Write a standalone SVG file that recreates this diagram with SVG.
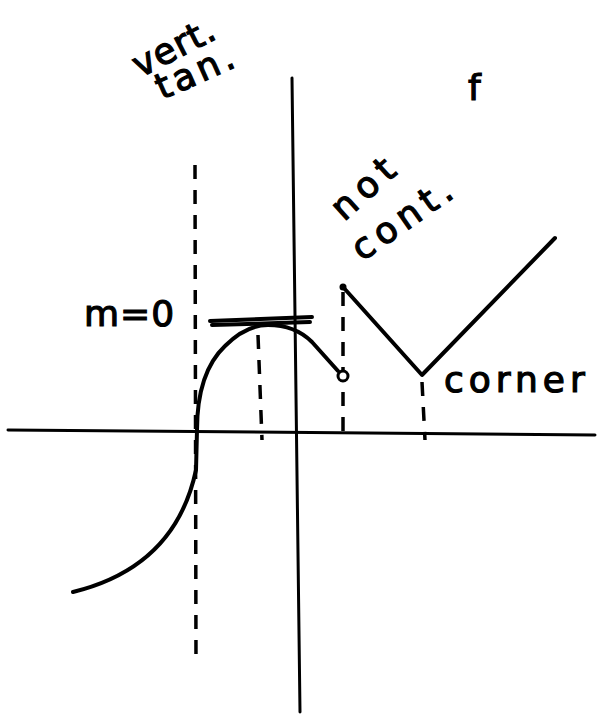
<svg xmlns="http://www.w3.org/2000/svg" width="613" height="714" viewBox="0 0 613 714">
<style>
.ax{stroke:#000;stroke-width:3;fill:none;stroke-linecap:round}
.cv{stroke:#000;stroke-width:4;fill:none;stroke-linecap:round;stroke-linejoin:round}
.dash{stroke:#000;stroke-width:3.5;fill:none;stroke-dasharray:14 11;stroke-linecap:butt}
.lbl{font-family:"DejaVu Sans","Liberation Sans",sans-serif;font-size:36px;fill:#000;stroke:#000;stroke-width:1.2}
</style>
<rect width="613" height="714" fill="#fff"/>
<g id="axes">
<path class="ax" d="M8,430 L595,435"/>
<path class="ax" d="M292,78 L300,712"/>
</g>
<g id="connectors">
<path class="dash" d="M195,165 L196,665"/>
<path class="dash" d="M258,335 L262,440"/>
<path class="dash" d="M343,292 L343,440"/>
<path class="dash" d="M422,382 L425,440"/>
<path class="cv" d="M210,321 L312,317" stroke-width="3"/>
<path class="cv" d="M212,325 L310,322" stroke-width="2"/>
</g>
<g id="curve">
<path class="cv" d="M73,592 C130,578 180,545 196,470 L197,430 C197,395 205,365 225,346 C240,331 255,325 268,325 C285,325 300,330 312,342 L338,371"/>
<circle cx="343" cy="376" r="5" fill="#fff" stroke="#000" stroke-width="3"/>
<circle cx="343" cy="287" r="3.5" fill="#000"/>
<path class="cv" d="M343,287 L422,375 L555,238"/>
</g>
<g id="label-vert">
<text class="lbl" transform="translate(140,78) rotate(-27)" letter-spacing="1">vert.</text>
<text class="lbl" transform="translate(162,100) rotate(-24)" letter-spacing="4">tan.</text>
</g>
<g id="label-f"><text class="lbl" x="468" y="100" font-size="50">f</text></g>
<g id="label-notcont">
<text class="lbl" transform="translate(344,222) rotate(-42)" font-size="40" letter-spacing="7">not</text>
<text class="lbl" transform="translate(362,262) rotate(-35)" font-size="40" letter-spacing="6">cont.</text>
</g>
<g id="label-m0"><text class="lbl" x="84" y="326" font-size="38" letter-spacing="1">m=0</text></g>
<g id="label-corner"><text class="lbl" x="444" y="392" font-size="38" letter-spacing="5">corner</text></g>
</svg>
